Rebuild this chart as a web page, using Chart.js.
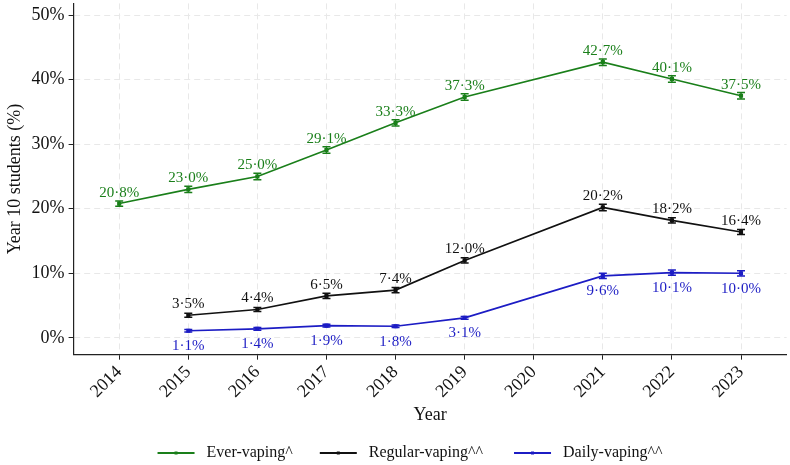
<!DOCTYPE html>
<html>
<head>
<meta charset="utf-8">
<script src="https://cdn.jsdelivr.net/npm/chart.js@4"></script>
<style>
  html, body { margin: 0; padding: 0; background: #fff; }
  #wrap { width: 790px; height: 465px; }
</style>
</head>
<body>
<div id="wrap"><canvas id="vaping"></canvas></div>
<script>
const years = [2014, 2015, 2016, 2017, 2018, 2019, 2020, 2021, 2022, 2023];
const everVaping = [20.8, 23.0, 25.0, 29.1, 33.3, 37.3, null, 42.7, 40.1, 37.5];
const regularVaping = [null, 3.5, 4.4, 6.5, 7.4, 12.0, null, 20.2, 18.2, 16.4];
const dailyVaping = [null, 1.1, 1.4, 1.9, 1.8, 3.1, null, 9.6, 10.1, 10.0];
// half-width of the 95% CI
const everErr = [0.4, 0.5, 0.5, 0.5, 0.5, 0.5, null, 0.5, 0.5, 0.5];
const regularErr = [null, 0.3, 0.3, 0.4, 0.4, 0.4, null, 0.5, 0.4, 0.4];
const dailyErr = [null, 0.2, 0.2, 0.2, 0.2, 0.2, null, 0.4, 0.4, 0.4];
const yTicks = [0, 10, 20, 30, 40, 50];

const GREEN = '#1a7f1a', BLACK = '#111111', BLUE = '#1c1cc4';
const FONT = '"Liberation Serif", "Times New Roman", serif';
const LEGEND_SHIFT = 14;

function pts(vals) {
    return years.map((y, i) => ({ x: y, y: vals[i] }));
}

function fmt(v) {
    return v.toFixed(1).replace('.', '\u00b7') + '%';
}

const errorBars = {
    id: 'errorBars',
    afterDatasetsDraw(chart) {
        const ctx = chart.ctx, ys = chart.scales.y;
        chart.data.datasets.forEach((ds, di) => {
            const meta = chart.getDatasetMeta(di);
            meta.data.forEach((el, i) => {
                const v = ds.data[i].y, e = ds.err[i];
                if (v == null || e == null) return;
                const top = ys.getPixelForValue(v + e), bot = ys.getPixelForValue(v - e);
                ctx.save();
                ctx.strokeStyle = ds.borderColor;
                ctx.lineWidth = 1.5;
                ctx.beginPath();
                ctx.moveTo(el.x, top); ctx.lineTo(el.x, bot);
                ctx.moveTo(el.x - 4, top); ctx.lineTo(el.x + 4, top);
                ctx.moveTo(el.x - 4, bot); ctx.lineTo(el.x + 4, bot);
                ctx.stroke();
                ctx.restore();
            });
        });
    }
};

const valueLabels = {
    id: 'valueLabels',
    afterDatasetsDraw(chart) {
        const ctx = chart.ctx;
        chart.data.datasets.forEach((ds, di) => {
            const meta = chart.getDatasetMeta(di);
            ctx.save();
            ctx.font = '15px ' + FONT;
            ctx.fillStyle = ds.borderColor;
            ctx.textAlign = 'center';
            meta.data.forEach((el, i) => {
                const v = ds.data[i].y;
                if (v == null) return;
                if (ds.labelPos === 'below') {
                    ctx.textBaseline = 'top';
                    ctx.fillText(fmt(v), el.x, el.y + 8);
                } else {
                    ctx.textBaseline = 'alphabetic';
                    ctx.fillText(fmt(v), el.x, el.y - 7);
                }
            });
            ctx.restore();
        });
    }
};

// nudge the legend row to the right and put a small marker on each line
const legendTweak = {
    id: 'legendTweak',
    afterInit(chart) {
        const lg = chart.legend;
        if (!lg) return;
        const orig = lg.draw;
        lg.draw = function () {
            const ctx = chart.ctx;
            ctx.save();
            ctx.translate(LEGEND_SHIFT, 0);
            orig.apply(this, arguments);
            (this.legendHitBoxes || []).forEach((hb, i) => {
                ctx.fillStyle = chart.data.datasets[i].borderColor;
                ctx.fillRect(hb.left + 18.5 - 1.5, hb.top + hb.height / 2 - 1.5, 3, 3);
            });
            ctx.restore();
        };
    }
};

function makeSet(label, vals, err, color, labelPos) {
    return {
        label: label,
        data: pts(vals),
        err: err,
        labelPos: labelPos,
        borderColor: color,
        backgroundColor: color,
        borderWidth: 1.6,
        pointRadius: 1.8,
        pointStyle: 'rect',
        pointHoverRadius: 1.8,
        spanGaps: true,
        tension: 0
    };
}

new Chart(document.getElementById('vaping').getContext('2d'), {
    type: 'line',
    data: {
        datasets: [
            makeSet('Ever-vaping^', everVaping, everErr, GREEN, 'above'),
            makeSet('Regular-vaping^^', regularVaping, regularErr, BLACK, 'above'),
            makeSet('Daily-vaping^^', dailyVaping, dailyErr, BLUE, 'below')
        ]
    },
    options: {
        responsive: true,
        maintainAspectRatio: false,
        animation: false,
        layout: { padding: { top: 0, right: 0, left: 2, bottom: -6 } },
        plugins: {
            tooltip: { enabled: false },
            legend: {
                position: 'bottom',
                labels: {
                    font: { family: FONT, size: 16 },
                    color: '#111',
                    padding: 3,
                    boxWidth: 37,
                    boxHeight: 2,
                    generateLabels(chart) {
                        // spaces widen the gaps around each entry's text
                        const tails = ['      ', '       ', ''];
                        return chart.data.datasets.map((ds, i) => ({
                            text: ' ' + ds.label + tails[i],
                            fillStyle: ds.borderColor,
                            strokeStyle: ds.borderColor,
                            fontColor: '#111',
                            lineWidth: 0,
                            hidden: false,
                            datasetIndex: i
                        }));
                    }
                }
            }
        },
        scales: {
            x: {
                type: 'linear',
                min: 2013.34,
                max: 2023.66,
                afterBuildTicks(axis) { axis.ticks = years.map(v => ({ value: v })); },
                ticks: {
                    callback: v => String(v),
                    minRotation: 45,
                    maxRotation: 45,
                    padding: 2,
                    color: '#111',
                    font: { family: FONT, size: 18 }
                },
                grid: { color: '#e8e8e8', drawTicks: true, tickLength: 5, tickColor: '#222', lineWidth: 1 },
                border: { display: true, color: '#222', width: 1.2, dash: [6, 4] },
                title: { display: true, text: 'Year', color: '#111', font: { family: FONT, size: 18 }, padding: { top: 0, bottom: 16 } }
            },
            y: {
                min: -2.6,
                max: 51.8,
                afterBuildTicks(axis) { axis.ticks = yTicks.map(v => ({ value: v })); },
                afterFit(axis) { axis.paddingTop = 0; },
                ticks: {
                    callback: v => v + '%',
                    color: '#111',
                    font: { family: FONT, size: 18 },
                    padding: 4
                },
                grid: { color: '#e8e8e8', tickLength: 5, tickColor: '#222' },
                border: { display: true, color: '#222', width: 1.2, dash: [6, 4] },
                title: { display: true, text: 'Year 10 students (%)', color: '#111', font: { family: FONT, size: 18 }, padding: 2 }
            }
        }
    },
    plugins: [errorBars, valueLabels, legendTweak]
});
</script>
</body>
</html>
